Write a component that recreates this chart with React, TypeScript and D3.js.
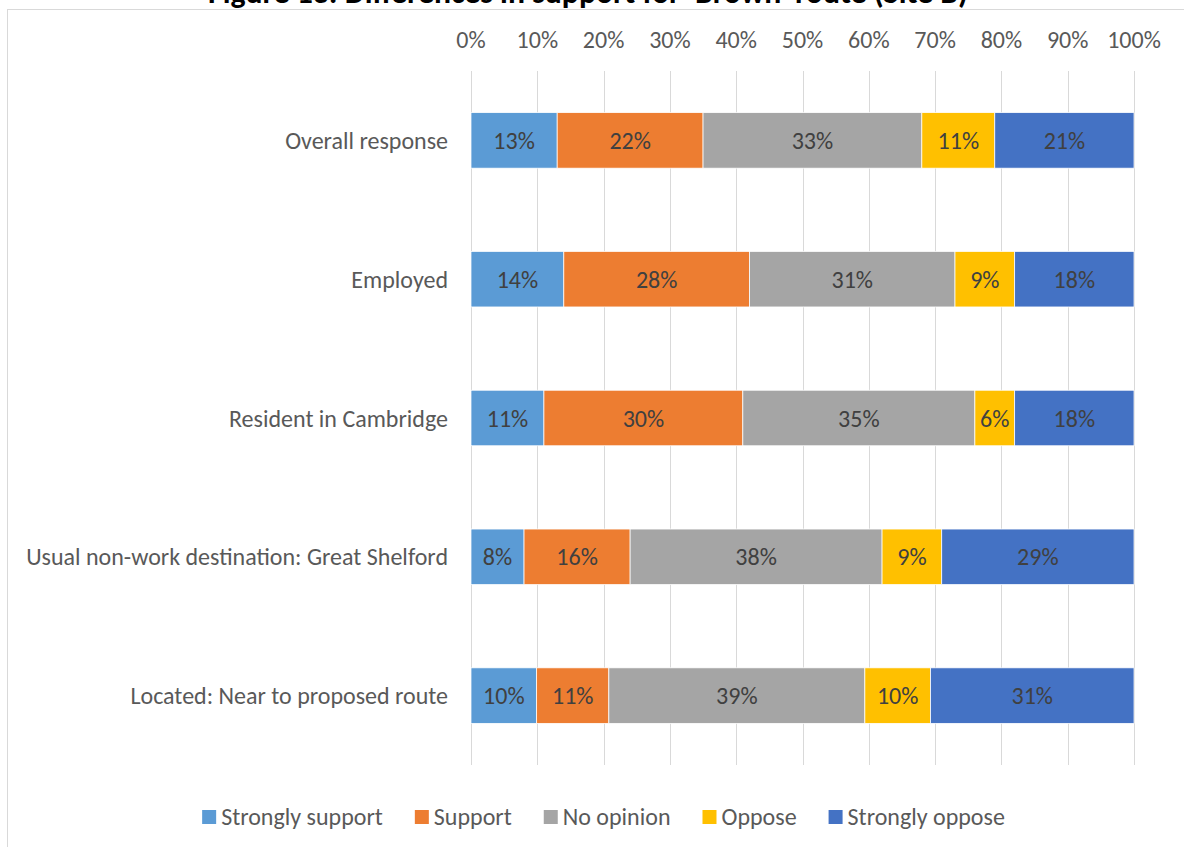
import React, { useEffect, useRef } from "react";
import * as d3 from "d3";

const categories = [
  "Overall response",
  "Employed",
  "Resident in Cambridge",
  "Usual non-work destination: Great Shelford",
  "Located: Near to proposed route",
];
const seriesNames = ["Strongly support", "Support", "No opinion", "Oppose", "Strongly oppose"];
const seriesColors = ["#5B9BD5", "#ED7D31", "#A5A5A5", "#FFC000", "#4472C4"];
const stronglySupport = [13, 14, 11, 8, 10];
const support = [22, 28, 30, 16, 11];
const noOpinion = [33, 31, 35, 38, 39];
const oppose = [11, 9, 6, 9, 10];
const stronglyOppose = [21, 18, 18, 29, 31];
const tickValues = [0, 0.1, 0.2, 0.3, 0.4, 0.5, 0.6, 0.7, 0.8, 0.9, 1];
const title = "Figure 13: Differences in support for 'Brown' route (Site B)";

const W = 1184;
const H = 847;
const FONT = "Calibri, Carlito, Lato, 'Liberation Sans', sans-serif";
const FS = 24;

export default function App() {
  const ref = useRef<SVGSVGElement>(null);

  useEffect(() => {
    const svg = d3.select(ref.current);
    svg.selectAll("*").remove();

    const series = [stronglySupport, support, noOpinion, oppose, stronglyOppose];
    const rows = categories.map((c, i) => {
      const vals = series.map((s) => s[i]);
      const total = d3.sum(vals);
      const o: any = { category: c };
      seriesNames.forEach((n, k) => {
        o[n] = vals[k] / total;
        o[n + "_raw"] = vals[k];
      });
      return o;
    });

    const stack = d3.stack<any>().keys(seriesNames);
    const stacked = stack(rows);

    const x = d3.scaleLinear().domain([0, 1]).range([471, 1134]);
    const y = d3
      .scaleBand<string>()
      .domain(categories)
      .range([71, 765])
      .paddingInner(0.6)
      .paddingOuter(0.3);

    // chart border
    svg
      .append("rect")
      .attr("x", 7.5)
      .attr("y", 9.5)
      .attr("width", 1200)
      .attr("height", 900)
      .attr("fill", "white")
      .attr("stroke", "#D9D9D9")
      .attr("stroke-width", 1);

    // title (cut off at the top edge, as in the reference)
    const titleText = svg
      .append("text")
      .attr("x", 588)
      .attr("y", 3)
      .attr("text-anchor", "middle")
      .attr("font-family", FONT)
      .attr("font-size", FS)
      .attr("font-weight", "bold")
      .attr("fill", "#000")
      .text(title);
    const tw = (titleText.node() as SVGTextElement).getComputedTextLength();
    if (tw > 0) titleText.attr("font-size", (FS * 760) / tw);

    // gridlines
    svg
      .append("g")
      .selectAll("line")
      .data(tickValues)
      .join("line")
      .attr("x1", (d) => Math.round(x(d)) + 0.5)
      .attr("x2", (d) => Math.round(x(d)) + 0.5)
      .attr("y1", 71)
      .attr("y2", 765)
      .attr("stroke", "#D9D9D9")
      .attr("stroke-width", 1);

    // tick labels
    svg
      .append("g")
      .selectAll("text")
      .data(tickValues)
      .join("text")
      .attr("x", (d) => x(d))
      .attr("y", 47.5)
      .attr("text-anchor", "middle")
      .attr("font-family", FONT)
      .attr("font-size", FS)
      .attr("fill", "#595959")
      .text((d) => d3.format(".0%")(d));

    // bars
    const layers = svg
      .append("g")
      .selectAll("g")
      .data(stacked)
      .join("g")
      .attr("fill", (_d, i) => seriesColors[i]);

    layers
      .selectAll("rect")
      .data((d) => d)
      .join("rect")
      .attr("x", (d) => x(d[0]))
      .attr("width", (d) => x(d[1]) - x(d[0]))
      .attr("y", (d) => y(d.data.category)!)
      .attr("height", y.bandwidth())
      .attr("stroke", "white")
      .attr("stroke-width", 0.75);

    // data labels
    stacked.forEach((layer) => {
      const key = layer.key;
      svg
        .append("g")
        .selectAll("text")
        .data(layer)
        .join("text")
        .attr("x", (d) => (x(d[0]) + x(d[1])) / 2)
        .attr("y", (d) => y(d.data.category)! + y.bandwidth() / 2 + 8.5)
        .attr("text-anchor", "middle")
        .attr("font-family", FONT)
        .attr("font-size", FS)
        .attr("fill", "#404040")
        .text((d) => d.data[key + "_raw"] + "%");
    });

    // category labels
    svg
      .append("g")
      .selectAll("text")
      .data(categories)
      .join("text")
      .attr("x", 448)
      .attr("y", (d) => y(d)! + y.bandwidth() / 2 + 8.5)
      .attr("text-anchor", "end")
      .attr("font-family", FONT)
      .attr("font-size", FS)
      .attr("fill", "#595959")
      .text((d) => d);

    // legend
    const lg = svg.append("g");
    const items = lg.selectAll("g").data(seriesNames).join("g");
    items
      .append("rect")
      .attr("width", 14)
      .attr("height", 14)
      .attr("y", 810)
      .attr("fill", (_d, i) => seriesColors[i]);
    const texts = items
      .append("text")
      .attr("x", 19)
      .attr("y", 825)
      .attr("font-family", FONT)
      .attr("font-size", FS)
      .attr("fill", "#595959")
      .text((d) => d);
    const widths: number[] = [];
    texts.each(function () {
      widths.push((this as SVGTextElement).getComputedTextLength());
    });
    const gap = 32;
    const itemW = widths.map((w) => 19 + w);
    const total = d3.sum(itemW) + gap * (itemW.length - 1);
    let cx = 603.5 - total / 2;
    items.attr("transform", (_d, i) => {
      const t = `translate(${cx},0)`;
      cx += itemW[i] + gap;
      return t;
    });
  }, []);

  return (
    <svg
      ref={ref}
      width={W}
      height={H}
      style={{ position: "absolute", left: 0, top: 0, background: "white" }}
    />
  );
}
